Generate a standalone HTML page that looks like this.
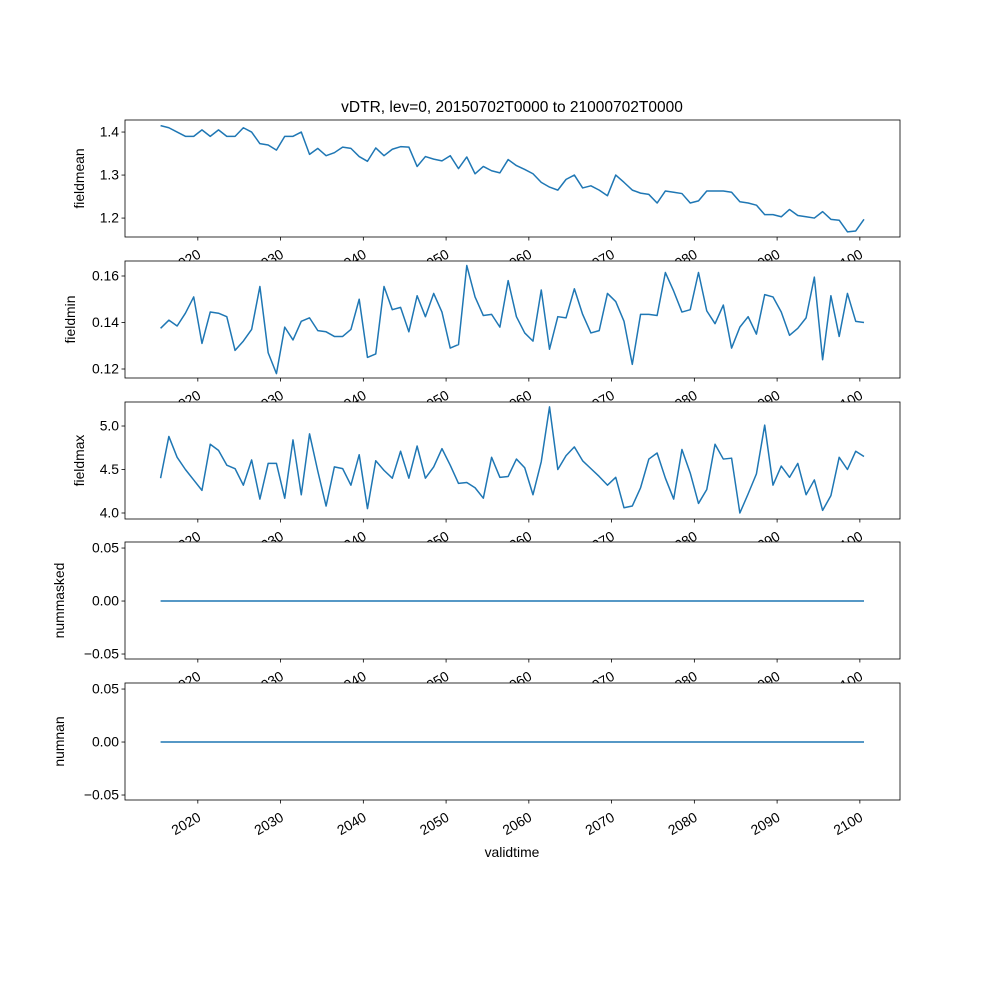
<!DOCTYPE html>
<html><head><meta charset="utf-8"><style>body{margin:0;background:#fff}svg{display:block;font-family:"Liberation Sans","DejaVu Sans",sans-serif}</style></head>
<body>
<svg id="fig" width="1000" height="1000" viewBox="0 0 1000 1000">
<rect width="1000" height="1000" fill="#fff"/>
<text x="512" y="112" font-size="15.5" text-anchor="middle">vDTR, lev=0, 20150702T0000 to 21000702T0000</text>
<text x="512" y="857" font-size="13.9" text-anchor="middle">validtime</text>
</svg>
<script>
const years = [];
for (let y = 2015; y <= 2100; y++) years.push(y);
const fieldmean = [1.415,1.41,1.40,1.39,1.39,1.405,1.39,1.405,1.39,1.39,
1.41,1.40,1.373,1.37,1.358,1.39,1.39,1.40,1.348,1.362,
1.345,1.352,1.365,1.362,1.343,1.332,1.363,1.345,1.36,1.366,
1.365,1.32,1.343,1.337,1.333,1.345,1.315,1.342,1.303,1.32,
1.31,1.305,1.336,1.322,1.313,1.303,1.283,1.272,1.265,1.29,
1.30,1.27,1.275,1.265,1.252,1.30,1.283,1.265,1.258,1.255,
1.235,1.263,1.26,1.257,1.235,1.24,1.263,1.263,1.263,1.26,
1.238,1.235,1.23,1.208,1.208,1.203,1.22,1.206,1.203,1.20,
1.215,1.197,1.195,1.168,1.17,1.197];
const fieldmin = [.1375,.141,.1385,.144,.151,.131,.1445,.144,.1425,.128,
.132,.137,.1555,.127,.118,.138,.1325,.1405,.142,.1365,
.136,.134,.134,.137,.150,.125,.1265,.1555,.1455,.1465,
.136,.1515,.1425,.1525,.1445,.129,.1305,.1645,.151,.143,
.1435,.138,.158,.1425,.1355,.132,.154,.1285,.1425,.142,
.1545,.1435,.1355,.1365,.1525,.149,.1405,.122,.1435,.1435,
.143,.1615,.1535,.1445,.1455,.1615,.145,.1395,.1475,.129,
.138,.1425,.135,.152,.151,.1445,.1345,.1375,.142,.1595,
.124,.1515,.134,.1525,.1405,.140];
const fieldmax = [4.40,4.88,4.64,4.50,4.38,4.26,4.79,4.72,4.55,4.51,
4.32,4.61,4.16,4.57,4.57,4.17,4.84,4.21,4.91,4.48,
4.08,4.53,4.51,4.32,4.67,4.05,4.60,4.49,4.40,4.71,
4.40,4.77,4.40,4.53,4.74,4.55,4.34,4.35,4.29,4.17,
4.64,4.41,4.42,4.62,4.52,4.21,4.59,5.22,4.50,4.66,
4.76,4.60,4.51,4.42,4.32,4.41,4.06,4.08,4.29,4.62,
4.69,4.40,4.16,4.73,4.46,4.11,4.27,4.79,4.62,4.63,
4.00,4.22,4.45,5.01,4.32,4.54,4.41,4.57,4.21,4.38,
4.03,4.20,4.64,4.50,4.71,4.65];
const nummasked = years.map(() => 0);
const numnan = years.map(() => 0);
const xTicks = [2020,2030,2040,2050,2060,2070,2080,2090,2100];
const meanTicks = ['1.2','1.3','1.4'];
const minTicks = ['0.12','0.14','0.16'];
const maxTicks = ['4.0','4.5','5.0'];
const zeroTicks = ['−0.05','0.00','0.05'];

const NS = 'http://www.w3.org/2000/svg';
const svg = document.getElementById('fig');
const L = 125, R = 900, X0 = 2011.2, X1 = 2104.85;
const xs = v => L + (v - X0) / (X1 - X0) * (R - L);
function mk(tag, attrs, parent) {
  const e = document.createElementNS(NS, tag);
  for (const k in attrs) e.setAttribute(k, attrs[k]);
  (parent || svg).appendChild(e);
  return e;
}
const panels = [
  {name:'fieldmean', data:fieldmean, top:120, lo:1.156, hi:1.428, ticks:meanTicks, lx:84},
  {name:'fieldmin', data:fieldmin, top:261, lo:0.11613, hi:0.16645, ticks:minTicks, lx:75},
  {name:'fieldmax', data:fieldmax, top:402, lo:3.931, hi:5.276, ticks:maxTicks, lx:84},
  {name:'nummasked', data:nummasked, top:542, lo:-0.0547, hi:0.0557, ticks:zeroTicks, lx:64},
  {name:'numnan', data:numnan, top:683, lo:-0.0547, hi:0.0557, ticks:zeroTicks, lx:64}
];
panels.forEach(p => {
  const H = 117, B = p.top + H;
  const ys = v => B - (v - p.lo) / (p.hi - p.lo) * H;
  const g = mk('g', {});
  
  
  const bg = mk('rect', {x:L, y:p.top, width:R-L, height:H, fill:'#fff'}, g);
  
  
  const pts = p.data.map((v, i) => xs(years[i] + 0.5).toFixed(2) + ',' + ys(v).toFixed(2)).join(' ');
  const line = mk('polyline', {points:pts, fill:'none', stroke:'#1f77b4', 'stroke-width':1.5, 'stroke-linejoin':'round'}, g);
  
  
  const fr = mk('rect', {x:L, y:p.top, width:R-L, height:H, fill:'none', stroke:'#000', 'stroke-width':0.8}, g);
  
  
  p.ticks.forEach(t => {
    const v = parseFloat(t.replace('−', '-'));
    const y = ys(v);
    mk('line', {x1:L-3.5, x2:L, y1:y, y2:y, stroke:'#000', 'stroke-width':0.8}, g);
    const tx = mk('text', {x:L-6, y:y+4.5, 'font-size':13.9, 'text-anchor':'end'}, g);
    
    
    tx.textContent = t;
  });
  xTicks.forEach(t => {
    const x = xs(t);
    mk('line', {x1:x, x2:x, y1:B, y2:B+3.5, stroke:'#000', 'stroke-width':0.8}, g);
    const tx = mk('text', {'font-size':13.9, 'text-anchor':'end', transform:'translate(' + (x+4) + ',' + (B+20) + ') rotate(-30)'}, g);
    
    
    tx.textContent = t;
  });
  const yl = mk('text', {'font-size':13.9, 'text-anchor':'middle', transform:'translate(' + p.lx + ',' + (p.top + H/2) + ') rotate(-90)'}, g);
  
  
  yl.textContent = p.name;
});
</script>
</body></html>
